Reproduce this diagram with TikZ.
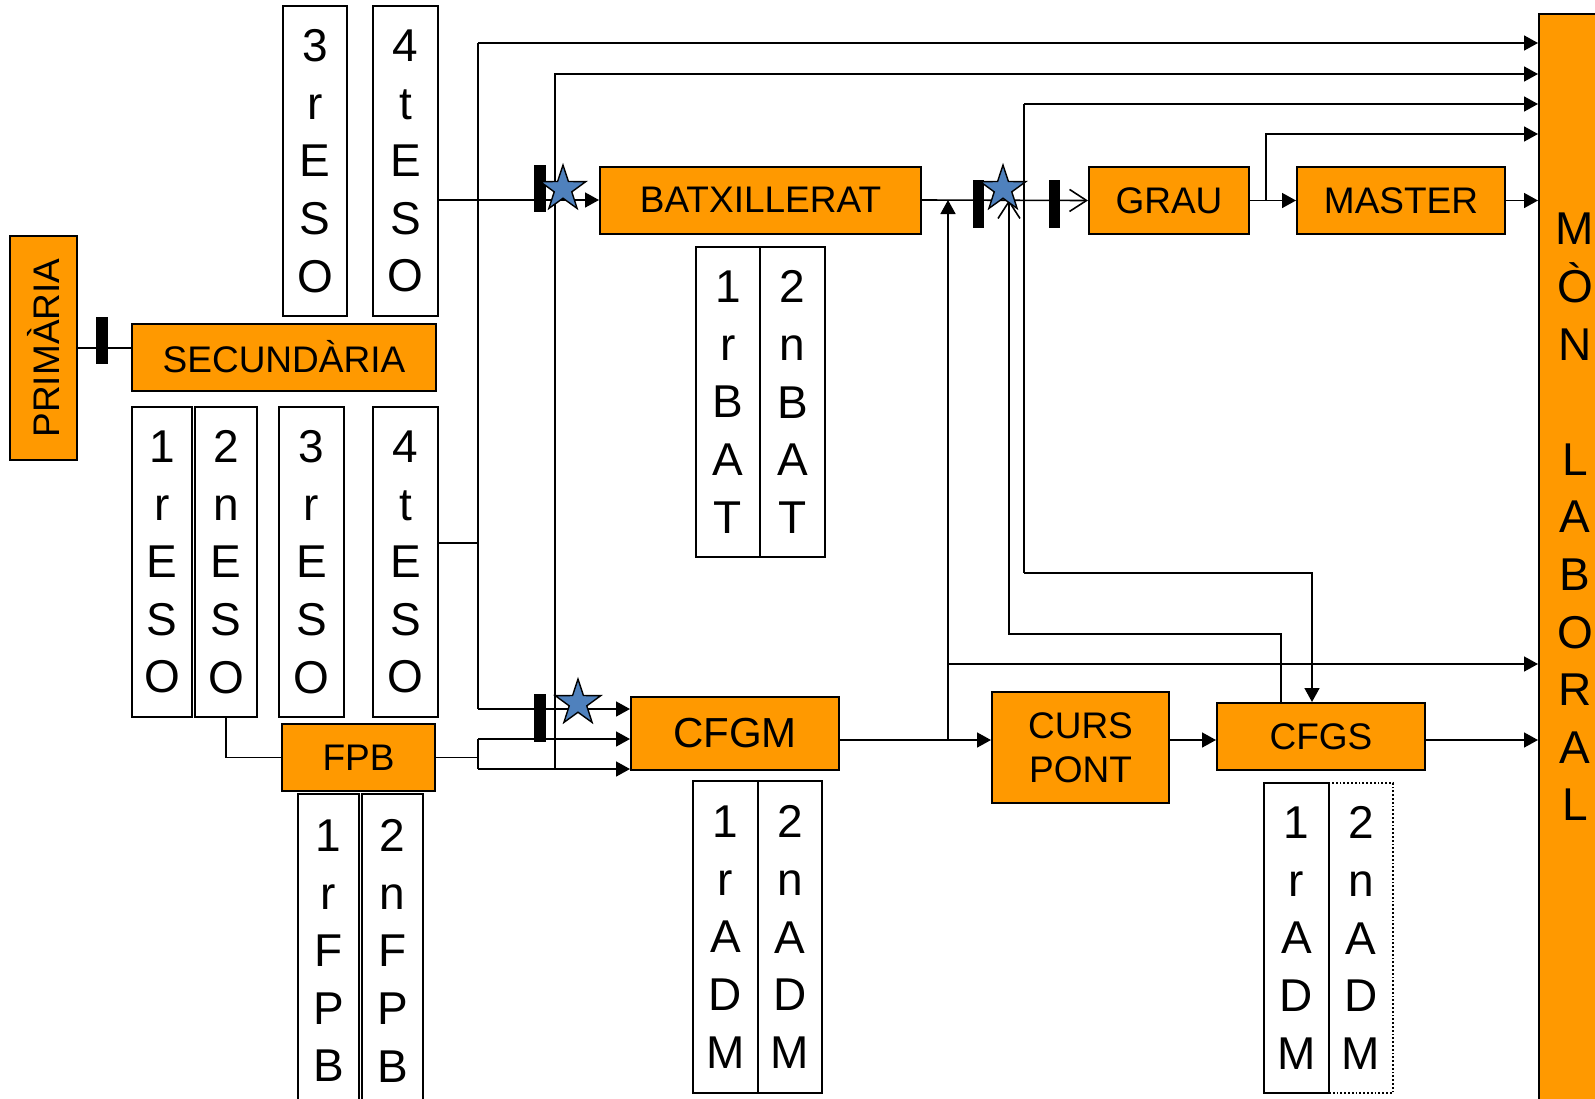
\documentclass[tikz,border=0pt]{standalone}
\usepackage{graphicx}
\usepackage{fontspec}
\setmainfont{Liberation Sans}
\usepackage{tikz}
\usetikzlibrary{arrows.meta,shapes.geometric}
\usepackage{xcolor}
\definecolor{orng}{RGB}{255,153,0}
\definecolor{stblue}{RGB}{79,129,189}

\begin{document}
\begin{tikzpicture}[x=0.5pt, y=-0.5pt,
        stagebox/.style={draw, fill=orng, line width=1pt, inner sep=0pt, minimum height=33.5pt, align=center, font=\fontsize{18.5}{22}\selectfont},
        colbox/.style={draw, line width=0.9pt, inner sep=0pt, minimum width=32pt, minimum height=155pt, align=center, font=\fontsize{23}{28.8}\selectfont},
        barmark/.style={fill=black, inner sep=0pt, minimum width=6pt, minimum height=23.5pt},
        starmark/.style={star, star points=5, star point ratio=2.6, draw, fill=stblue, line width=0.7pt, inner sep=0pt, minimum size=24pt},
        link/.style={line width=0.8pt},
        openhead/.style={-{Straight Barb[length=8.5pt,width=11pt]}},
        >={Triangle[length=7pt,width=7.5pt]}
      ]
      \useasboundingbox (0,0) rectangle (1595,1098);
      \node[stagebox, minimum width=33.5pt, minimum height=112pt] (prim) at (43.5,348) {\rotatebox{90}{PRIMÀRIA}};
      \node[stagebox, minimum width=152pt] (sec) at (284,357) {SECUNDÀRIA};
      \node[colbox] (e3t) at (315,161) {3\\r\\E\\S\\O};
      \node[colbox, minimum width=32.5pt] (e4t) at (405.5,161) {4\\t\\E\\S\\O};
      \node[colbox, minimum width=30pt] (e1) at (162,562) {1\\r\\E\\S\\O};
      \node[colbox, minimum width=31pt] (e2) at (226,562) {2\\n\\E\\S\\O};
      \node[colbox, minimum width=32.5pt] (e3) at (311.5,562) {3\\r\\E\\S\\O};
      \node[colbox, minimum width=32.5pt] (e4) at (405.5,562) {4\\t\\E\\S\\O};
      \node[stagebox, minimum width=76.5pt] (fpb) at (358.5,757.5) {FPB};
      \node[colbox, minimum width=30.5pt, minimum height=157pt, anchor=north] (f1) at (328.5,793) {1\\r\\F\\P\\B};
      \node[colbox, minimum width=30.5pt, minimum height=157pt, anchor=north] (f2) at (392.5,793) {2\\n\\F\\P\\B};
      \node[stagebox, minimum width=160.5pt] (batx) at (760.5,200) {BATXILLERAT};
      \node[colbox] (b1) at (728,402) {1\\r\\B\\A\\T};
      \node[colbox, minimum width=32.5pt] (b2) at (792.5,402) {2\\n\\B\\A\\T};
      \node[stagebox, minimum width=104pt, minimum height=36.5pt, font=\fontsize{21}{25}\selectfont] (cfgm) at (735,733.5) {CFGM};
      \node[colbox, minimum width=32.5pt, minimum height=156pt] (a1) at (725.5,937) {1\\r\\A\\D\\M};
      \node[colbox, minimum height=156pt] (a2) at (790,937) {2\\n\\A\\D\\M};
      \node[stagebox, minimum width=80pt] (grau) at (1169,200.5) {GRAU};
      \node[stagebox, minimum width=104pt] (mast) at (1401,200.5) {MASTER};
      \node[stagebox, minimum width=88.5pt, minimum height=55.5pt] (curs) at (1080.5,747.5) {CURS\\PONT};
      \node[stagebox, minimum width=104pt] (cfgs) at (1321,736.5) {CFGS};
      \node[colbox, densely dotted] (s2) at (1361,938) {2\\n\\A\\D\\M};
      \node[colbox, minimum width=32.5pt] (s1) at (1296.5,938) {1\\r\\A\\D\\M};
      \node[stagebox, anchor=north west, minimum width=41pt, minimum height=560pt] (mon) at (1538,13) {};
      \node[inner sep=0pt, align=center, font=\fontsize{23}{28.8}\selectfont] (montxt) at (1575,517) {M\\Ò\\N\\~\\L\\A\\B\\O\\R\\A\\L};
      \coordinate (ta) at (478,43);
      \coordinate (tb) at (478,709);
      \coordinate (te) at (478,543);
      \coordinate (tc) at (555,74);
      \coordinate (td) at (555,769);
      \coordinate (fa) at (478,739);
      \coordinate (fb) at (478,769);
      \coordinate (jc) at (948,740);
      \coordinate (jm) at (948,664);
      \coordinate (gb) at (1024,104);
      \coordinate (gc) at (1024,573);
      \coordinate (gd) at (1312,573);
      \coordinate (ha) at (1281,634);
      \coordinate (hb) at (1009,634);
      \coordinate (ka) at (1266,200);
      \coordinate (kb) at (1266,134);
      \draw[link] (prim.east) -- (prim.east -| sec.west);
      \draw[link, ->] (e4t.east |- batx.west) -- (batx.west);
      \draw[link] (e4.east |- te) -- (te);
      \draw[link] (ta) -- (tb);
      \draw[link, ->] (ta) -- (ta -| mon.west);
      \draw[link, ->] (tb) -- (tb -| cfgm.west);
      \draw[link] (e2.south) |- (fpb.west);
      \draw[link] (fpb.east) -- (fpb.east -| fa);
      \draw[link] (fa) -- (fb);
      \draw[link, ->] (fa) -- (fa -| cfgm.west);
      \draw[link, ->] (fb) -- (fb -| cfgm.west);
      \draw[link, ->] (td) -- (tc) -- (tc -| mon.west);
      \draw[link, openhead] (batx.east) -- (grau.west);
      \draw[link, ->] (cfgm.east |- jc) -- (jc -| curs.west);
      \draw[link, ->] (jc) -- (jc |- batx.east);
      \draw[link, ->] (jm) -- (jm -| mon.west);
      \draw[link, ->] (curs.east |- jc) -- (jc -| cfgs.west);
      \draw[link, ->] (cfgs.east |- jc) -- (jc -| mon.west);
      \draw[link, ->] (gb) -- (gb -| mon.west);
      \draw[link] (gb) -- (gc);
      \draw[link, ->] (gc) -- (gd) -- (gd |- cfgs.north);
      \draw[link, openhead] (ha |- cfgs.north) -- (ha) -- (hb) -- (hb |- batx.east);
      \draw[link, ->] (grau.east) -- (mast.west);
      \draw[link, ->] (ka) -- (kb) -- (kb -| mon.west);
      \draw[link, ->] (mast.east) -- (mast.east -| mon.west);
      \node[barmark] (k1) at (102,340.5) {};
      \node[barmark] (k2) at (540,188.5) {};
      \node[barmark, minimum height=24pt] (k3) at (540,718) {};
      \node[barmark, minimum width=5.5pt, minimum height=24pt] (k4) at (978.5,204) {};
      \node[barmark, minimum width=5.5pt, minimum height=24pt] (k5) at (1054.5,204) {};
      \node[starmark] (st1) at (563,189) {};
      \node[starmark] (st2) at (578,703) {};
      \node[starmark] (st3) at (1003,189) {};
    \end{tikzpicture}
\end{document}
